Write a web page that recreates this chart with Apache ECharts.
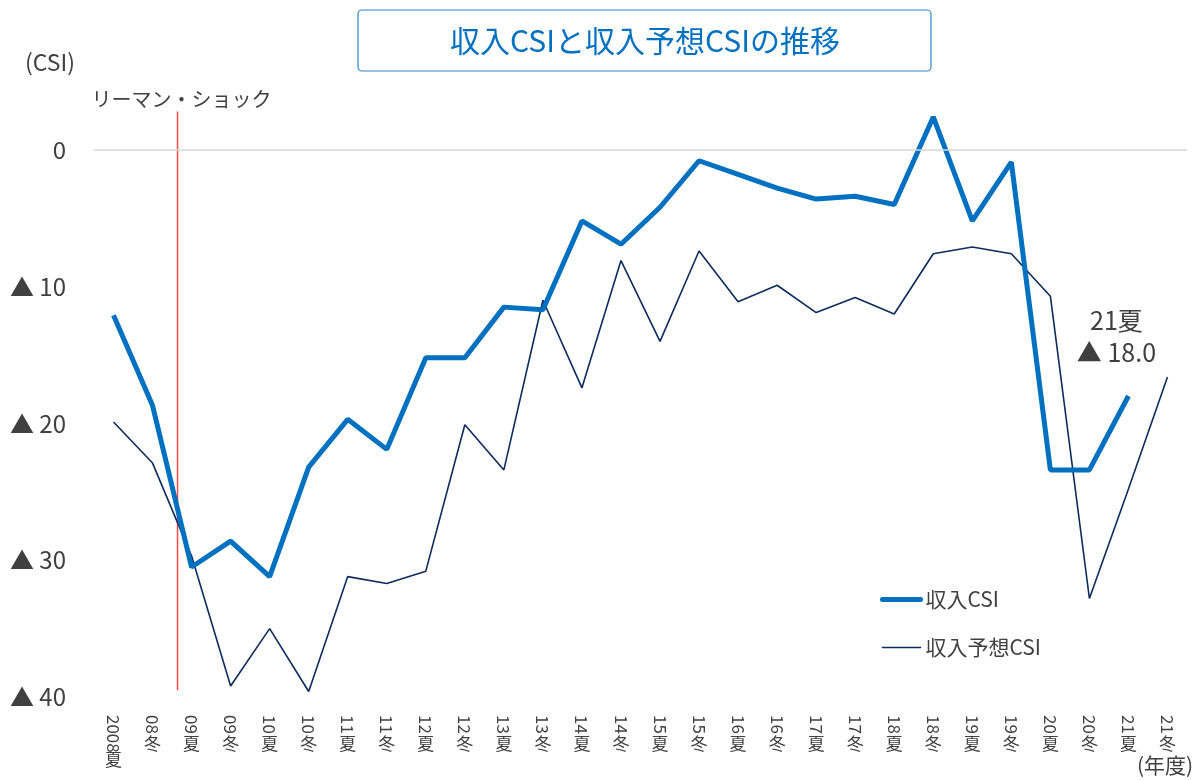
<!DOCTYPE html>
<html>
<head>
<meta charset="utf-8">
<script src="https://cdn.jsdelivr.net/npm/echarts@6/dist/echarts.min.js"></script>
<style>
  html, body { margin: 0; padding: 0; background: #fff; }
  #chart { width: 1198px; height: 780px; }
</style>
</head>
<body>
<div id="chart"></div>
<script>
// 期間（年度・夏冬）
const periods = ['2008夏', '08冬', '09夏', '09冬', '10夏', '10冬', '11夏', '11冬', '12夏', '12冬',
  '13夏', '13冬', '14夏', '14冬', '15夏', '15冬', '16夏', '16冬', '17夏', '17冬',
  '18夏', '18冬', '19夏', '19冬', '20夏', '20冬', '21夏', '21冬']

// 収入CSI（マイナスは▲表示）
const incomeCsi = [-12.1, -18.7, -30.5, -28.6, -31.2, -23.2, -19.7, -21.9, -15.2, -15.2,
  -11.5, -11.7, -5.2, -6.9, -4.2, -0.8, -1.8, -2.8, -3.6, -3.4,
  -4.0, 2.4, -5.2, -0.9, -23.4, -23.4, -18.0, null]

// 収入予想CSI
const expectCsi = [-19.9, -22.9, -29.7, -39.2, -35.0, -39.6, -31.2, -31.7, -30.8, -20.1,
  -23.4, -11.0, -17.4, -8.1, -14.0, -7.4, -11.1, -9.9, -11.9, -10.8,
  -12.0, -7.6, -7.1, -7.6, -10.7, -32.8, -24.8, -16.6]

// リーマン・ショックの位置（カテゴリ番号の間）と縦線の範囲
const lehmanPos = 1.64
const lehmanRange = [-39.5, 2.8]

const yTicks = { min: -40, max: 10, interval: 10 }

const fontJP = '"Noto Sans CJK JP", "Noto Sans", sans-serif'
const textColor = '#404040'

const chart = echarts.init(document.getElementById('chart'))

chart.setOption({
  animation: false,
  textStyle: { fontFamily: fontJP },
  grid: { left: 94, right: 11, top: 13, bottom: 83 },
  graphic: [
    // タイトル枠
    {
      type: 'rect',
      shape: { x: 358, y: 10, width: 573, height: 61, r: 4 },
      style: { fill: '#fff', stroke: '#2e86d0', lineWidth: 1.2 },
      z: 10
    },
    {
      type: 'text',
      x: 645, y: 41,
      style: {
        text: '収入CSIと収入予想CSIの推移',
        fill: '#0070c0', font: '30px ' + fontJP,
        align: 'center', verticalAlign: 'middle'
      },
      z: 11
    },
    {
      type: 'text',
      x: 50, y: 62,
      style: {
        text: '(CSI)', fill: textColor, font: '23px ' + fontJP,
        align: 'center', verticalAlign: 'middle'
      }
    },
    {
      type: 'text',
      x: 1165, y: 765,
      style: {
        text: '(年度)', fill: textColor, font: '21px ' + fontJP,
        align: 'center', verticalAlign: 'middle'
      }
    }
  ],
  legend: {
    data: ['収入CSI', '収入予想CSI'],
    orient: 'vertical',
    left: 875,
    top: 584,
    itemWidth: 38,
    itemHeight: 14,
    itemGap: 27,
    itemStyle: { opacity: 0 },
    lineStyle: { width: 'inherit', cap: 'round' },
    textStyle: { fontSize: 21, color: textColor, fontFamily: fontJP }
  },
  xAxis: [
    {
      type: 'category',
      data: periods,
      axisLine: { show: false },
      axisTick: { show: false },
      axisLabel: {
        interval: 0,
        rotate: -90,
        margin: 18,
        fontSize: 17,
        color: textColor,
        formatter: v => v.slice(0, -1)
      }
    },
    {
      type: 'category',
      data: periods,
      position: 'bottom',
      axisLine: { show: false },
      axisTick: { show: false },
      axisLabel: {
        interval: 0,
        margin: 39,
        fontSize: 17,
        lineHeight: 16,
        color: textColor,
        formatter: (v, i) => (i === 0 ? '\n' : '') + v.slice(-1)
      }
    },
    {
      type: 'value',
      show: false,
      min: -0.5,
      max: periods.length - 0.5
    }
  ],
  yAxis: {
    type: 'value',
    min: yTicks.min,
    max: yTicks.max,
    interval: yTicks.interval,
    axisLine: { show: false },
    axisTick: { show: false },
    splitLine: { show: false },
    axisLabel: {
      margin: 28,
      fontSize: 24,
      color: textColor,
      formatter: v => v > 0 ? '' : (v === 0 ? '0' : '▲ ' + (-v))
    }
  },
  series: [
    {
      name: '収入予想CSI',
      type: 'line',
      data: expectCsi,
      symbol: 'none',
      lineStyle: { color: '#0d2b5c', width: 1.6 },
      itemStyle: { color: '#0d2b5c' },
      z: 3,
      markLine: {
        silent: true,
        symbol: 'none',
        label: { show: false },
        lineStyle: { color: '#d9d9d9', width: 1.5, type: 'solid' },
        data: [{ yAxis: 0 }]
      }
    },
    {
      name: '収入CSI',
      type: 'line',
      data: incomeCsi.map((v, i) => i === 26 ? {
        value: v,
        label: {
          show: true,
          position: 'top',
          distance: 28,
          offset: [-12, 0],
          formatter: '21夏\n▲ 18.0',
          fontSize: 25,
          lineHeight: 32,
          color: textColor,
          align: 'center'
        }
      } : v),
      symbol: 'circle',
      symbolSize: 0,
      showSymbol: true,
      lineStyle: { color: '#0070c0', width: 5 },
      itemStyle: { color: '#0070c0' },
      z: 4
    },
    {
      name: 'リーマン・ショック',
      type: 'line',
      xAxisIndex: 2,
      data: [
        [lehmanPos, lehmanRange[0]],
        {
          value: [lehmanPos, lehmanRange[1]],
          label: {
            show: true,
            position: 'top',
            distance: 3,
            offset: [4, 1],
            formatter: 'リーマン・ショック',
            fontSize: 20,
            color: textColor
          }
        }
      ],
      symbol: 'circle',
      symbolSize: 0,
      showSymbol: true,
      silent: true,
      lineStyle: { color: '#ff4b4b', width: 1.5 },
      itemStyle: { color: '#ff4b4b' },
      z: 2
    }
  ]
})
</script>
</body>
</html>
